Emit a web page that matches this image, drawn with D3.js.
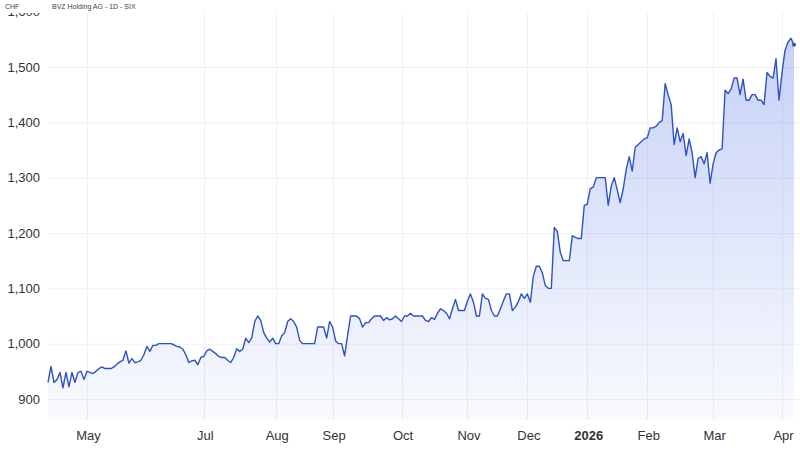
<!DOCTYPE html>
<html>
<head>
<meta charset="utf-8">
<script src="https://cdn.jsdelivr.net/npm/d3@7"></script>
<style>
  body { margin: 0; background: #fff; }
  svg { display: block; font-family: "Liberation Sans", Arial, sans-serif; }
</style>
</head>
<body>
<svg width="800" height="452"></svg>
<script>
// daily closes (CHF), one per trading day
var closes = [
  930, 959, 930, 935, 948, 920, 948, 922, 948, 930,
  948, 950, 935, 950, 948, 946, 950, 955, 958, 955,
  955, 955, 958, 963, 967, 970, 987, 965, 973, 966,
  967, 970, 980, 995, 986, 997, 997, 1000, 1000, 1000,
  1000, 1000, 998, 995, 994, 990, 980, 966, 969, 970,
  962, 975, 977, 987, 990, 986, 982, 977, 975, 975,
  970, 966, 975, 991, 986, 990, 1010, 1002, 1010, 1040,
  1050, 1042, 1020, 1010, 1003, 1010, 1000, 1000, 1014, 1020,
  1040, 1045, 1040, 1030, 1006, 1000, 1000, 1000, 1000, 1000,
  1030, 1030, 1030, 1010, 1040, 1030, 1005, 1000, 1000, 978,
  1015, 1050, 1050, 1050, 1045, 1030, 1038, 1038, 1045, 1050,
  1050, 1050, 1042, 1047, 1043, 1045, 1050, 1045, 1040, 1050,
  1050, 1055, 1050, 1050, 1050, 1050, 1042, 1040, 1047, 1044,
  1055, 1063, 1060, 1055, 1045, 1063, 1080, 1060, 1060, 1060,
  1077, 1090, 1075, 1050, 1050, 1090, 1082, 1080, 1060, 1050,
  1050, 1063, 1077, 1090, 1090, 1060, 1066, 1076, 1090, 1082,
  1090, 1075, 1122, 1140, 1140, 1128, 1105, 1100, 1100, 1210,
  1203, 1165, 1150, 1150, 1150, 1195, 1192, 1190, 1190, 1250,
  1252, 1280, 1283, 1300, 1300, 1300, 1300, 1250, 1285, 1300,
  1278, 1255, 1280, 1315, 1338, 1312, 1355, 1360, 1365, 1370,
  1372, 1390, 1390, 1393, 1400, 1403, 1470, 1450, 1432, 1360,
  1390, 1365, 1380, 1340, 1370, 1345, 1300, 1335, 1338, 1325,
  1345, 1290, 1325, 1345, 1350, 1352, 1458, 1452, 1460, 1480,
  1480, 1450, 1478, 1440, 1440, 1450, 1450, 1440, 1440, 1432,
  1490, 1483, 1480, 1515, 1440, 1490, 1530, 1545, 1552, 1540
];

var yTicks = [900, 1000, 1100, 1200, 1300, 1400, 1500, 1600];
// month labels and the trading-day index they sit on
var monthLabels = ["May", "Jul", "Aug", "Sep", "Oct", "Nov", "Dec", "2026", "Feb", "Mar", "Apr"];
var monthIndex = [13, 52, 76, 95, 118, 140, 160, 180, 200, 222, 245];

var svg = d3.select("svg"),
    width = +svg.attr("width"),
    height = +svg.attr("height");

var x = d3.scaleLinear()
    .domain([0, closes.length - 1])
    .range([48, 794]);

var y = d3.scaleLinear()
    .domain([900, 1500])
    .range([399, 67]);

var plotBottom = 420;

// gradient under the line
var defs = svg.append("defs");
var grad = defs.append("linearGradient")
    .attr("id", "fillGrad")
    .attr("gradientUnits", "userSpaceOnUse")
    .attr("x1", 0).attr("y1", 30)
    .attr("x2", 0).attr("y2", plotBottom);
grad.append("stop").attr("offset", "0%").attr("stop-color", "#3d63e0").attr("stop-opacity", 0.30);
grad.append("stop").attr("offset", "100%").attr("stop-color", "#3d63e0").attr("stop-opacity", 0.03);

// grid
svg.append("g")
    .selectAll("line")
    .data(yTicks)
    .enter().append("line")
    .attr("x1", 48)
    .attr("x2", width)
    .attr("y1", function(d) { return y(d) + 0.5; })
    .attr("y2", function(d) { return y(d) + 0.5; })
    .attr("stroke", "#eef0f4");

svg.append("g")
    .selectAll("line")
    .data(monthIndex)
    .enter().append("line")
    .attr("x1", function(d) { return Math.round(x(d)) + 0.5; })
    .attr("x2", function(d) { return Math.round(x(d)) + 0.5; })
    .attr("y1", 0)
    .attr("y2", plotBottom)
    .attr("stroke", "#eef0f4");

var area = d3.area()
    .x(function(d, i) { return x(i); })
    .y0(plotBottom)
    .y1(function(d) { return y(d); });

var line = d3.line()
    .x(function(d, i) { return x(i); })
    .y(function(d) { return y(d); });

svg.append("path")
    .datum(closes)
    .attr("d", area)
    .attr("fill", "url(#fillGrad)");

svg.append("path")
    .datum(closes)
    .attr("d", line)
    .attr("fill", "none")
    .attr("stroke", "#2d52c4")
    .attr("stroke-width", 1.4)
    .attr("stroke-linejoin", "round");

svg.append("circle")
    .attr("cx", x(closes.length - 1))
    .attr("cy", y(closes[closes.length - 1]))
    .attr("r", 2)
    .attr("fill", "#2d52c4");

// y axis labels
var yAxis = d3.axisLeft(y)
    .tickValues(yTicks)
    .tickSize(0)
    .tickPadding(0)
    .tickFormat(d3.format(","));

svg.append("g")
    .attr("transform", "translate(40,0)")
    .call(yAxis)
    .call(function(g) { g.select(".domain").remove(); })
    .selectAll("text")
    .attr("font-family", "'Liberation Sans', Arial, sans-serif")
    .attr("font-size", 13)
    .attr("fill", "#333");

// x axis labels
var xAxis = d3.axisBottom(x)
    .tickValues(monthIndex)
    .tickSize(0)
    .tickPadding(0)
    .tickFormat(function(d, i) { return monthLabels[i]; });

svg.append("g")
    .attr("transform", "translate(1,431)")
    .call(xAxis)
    .call(function(g) { g.select(".domain").remove(); })
    .selectAll("text")
    .attr("font-family", "'Liberation Sans', Arial, sans-serif")
    .attr("font-size", 13)
    .attr("fill", "#333")
    .attr("font-weight", function(d, i) { return monthLabels[i] === "2026" ? "bold" : "normal"; });

// header band (hides the top of the 1,600 label like the original)
svg.append("rect")
    .attr("x", 0).attr("y", 0)
    .attr("width", width).attr("height", 13)
    .attr("fill", "#fff");

svg.append("text")
    .attr("x", 5).attr("y", 9)
    .attr("font-size", 7)
    .attr("fill", "#444")
    .text("CHF");

svg.append("text")
    .attr("x", 52).attr("y", 9)
    .attr("font-size", 7)
    .attr("fill", "#444")
    .text("BVZ Holding AG - 1D - SIX");
</script>
</body>
</html>
